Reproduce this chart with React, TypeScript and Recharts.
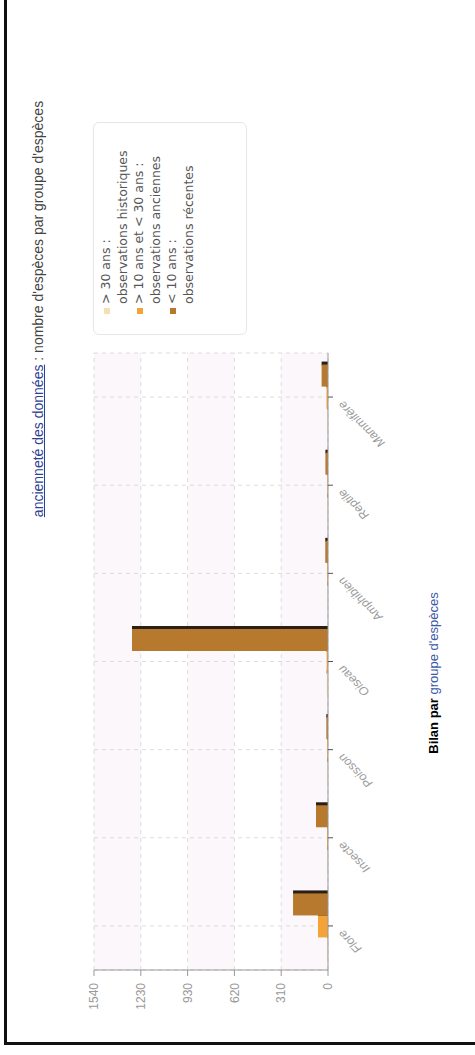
import React from 'react';
import { BarChart, Bar, XAxis, YAxis, CartesianGrid, Legend } from 'recharts';

const categories = ['Flore', 'Insecte', 'Poisson', 'Oiseau', 'Amphibien', 'Reptile', 'Mammifère'];
const historiques = [6, 5, 4, 8, 3, 3, 4];
const anciennes = [66, 6, 5, 9, 5, 4, 10];
const recentes = [230, 79, 11, 1290, 18, 17, 42];
const valueTicks = [0, 308, 616, 924, 1232, 1540];
const valueTickLabels = ['0', '310', '620', '930', '1230', '1540'];
const seriesKeys = ['historiques', 'anciennes', 'recentes'];
const seriesLabels = ['> 30 ans :', '> 10 ans et < 30 ans :', '< 10 ans :'];
const seriesSubLabels = ['observations historiques', 'observations anciennes', 'observations récentes'];
const seriesColors = ['#f6dfb4', '#f3a338', '#b7792d'];

const data = categories.map((name, i) => ({
  name,
  historiques: historiques[i],
  anciennes: anciennes[i],
  recentes: recentes[i],
}));

const TICK_FONT = '"Liberation Sans Narrow", "Liberation Sans", Arial, sans-serif';

const ShadowBar = (props: any) => {
  const { x, y, width, height, fill } = props;
  if (!height || height <= 0) return null;
  return (
    <g>
      <rect x={x + width - 1} y={y} width={4} height={height} fill="#2a2016" />
      <rect x={x} y={y} width={width} height={height} fill={fill} />
    </g>
  );
};

const CatTick = (props: any) => {
  const { x, y, payload } = props;
  const ax = x - 3;
  const ay = y + 8;
  return (
    <text
      x={ax}
      y={ay}
      transform={`rotate(-45, ${ax}, ${ay})`}
      textAnchor="end"
      fill="#9a9a9a"
      fontSize={12}
      fontStyle="italic"
      fontFamily='"Liberation Sans", Arial, sans-serif'
    >
      {payload.value}
    </text>
  );
};

const LegendBox = (props: any) => {
  const payload = props.payload || [];
  return (
    <div
      style={{
        width: 207,
        height: 148,
        border: '1px solid #e6e6e6',
        borderRadius: 6,
        background: '#fff',
        boxSizing: 'content-box',
        padding: '4px 2px 0 2px',
        fontFamily: '"DejaVu Sans", sans-serif',
        fontSize: 12.5,
        color: '#555',
      }}
    >
      {payload.map((p: any, i: number) => (
        <div key={i} style={{ position: 'relative', paddingLeft: 28, height: 33, lineHeight: '16.5px' }}>
          <span
            style={{
              position: 'absolute',
              left: 18,
              top: 6,
              width: 6,
              height: 6,
              background: seriesColors[i],
            }}
          />
          <div>{seriesLabels[i]}</div>
          <div>{seriesSubLabels[i]}</div>
        </div>
      ))}
    </div>
  );
};

export default function App() {
  return (
    <div
      style={{
        position: 'fixed',
        left: 0,
        top: 0,
        width: 475,
        height: 1055,
        overflow: 'hidden',
        background: '#fff',
      }}
    >
      <div
        style={{
          position: 'absolute',
          left: 0,
          top: 0,
          width: 1055,
          height: 475,
          transformOrigin: '0 0',
          transform: 'translate(0px, 1055px) rotate(-90deg)',
          background: '#fff',
        }}
      >
        <div
          style={{
            position: 'absolute',
            left: 10,
            top: 4,
            width: 1200,
            height: 600,
            border: '3px solid #111',
          }}
        />
        <div
          style={{
            position: 'absolute',
            left: 0,
            top: 30,
            width: 1492,
            textAlign: 'center',
            fontFamily: '"Liberation Sans", Arial, sans-serif',
            fontSize: 14,
            lineHeight: '16px',
            color: '#444',
            whiteSpace: 'nowrap',
          }}
        >
          <span style={{ color: '#2f3f93', textDecoration: 'underline' }}>ancienneté des données</span>
          <span> : nombre d'espèces par groupe d'espèces</span>
        </div>
        <div style={{ position: 'absolute', left: 0, top: 0 }}>
          <BarChart
            width={1055}
            height={475}
            data={data}
            margin={{ top: 94, right: 353, bottom: 117, left: 0 }}
            barCategoryGap="12%"
            barGap={0}
          >
            <CartesianGrid
              stroke="#dcdcdc"
              strokeDasharray="4 4"
              horizontalFill={['#fbf7fa', '#ffffff']}
              fillOpacity={1}
            />
            <XAxis
              dataKey="name"
              height={30}
              interval={0}
              tickSize={5}
              tick={<CatTick />}
              axisLine={{ stroke: '#999' }}
              tickLine={{ stroke: '#555' }}
            />
            <YAxis
              width={85}
              domain={[0, 1540]}
              ticks={valueTicks}
              tickFormatter={(v: number) => valueTickLabels[valueTicks.indexOf(v)] ?? String(v)}
              tickSize={6}
              tickMargin={7}
              axisLine={{ stroke: '#999' }}
              tickLine={{ stroke: '#999' }}
              tick={{ fill: '#999', fontSize: 12, fontFamily: TICK_FONT }}
              allowDataOverflow
            />
            <Legend
              layout="horizontal"
              verticalAlign="middle"
              align="center"
              content={<LegendBox />}
              wrapperStyle={{ left: 720, top: 93, width: 213, height: 154 }}
            />
            {seriesKeys.map((k, i) => (
              <Bar
                key={k}
                dataKey={k}
                name={seriesLabels[i]}
                fill={seriesColors[i]}
                shape={<ShadowBar />}
                isAnimationActive={false}
              />
            ))}
          </BarChart>
        </div>
        <div
          style={{
            position: 'absolute',
            left: 0,
            top: 426,
            width: 764,
            textAlign: 'center',
            fontFamily: '"Liberation Sans", Arial, sans-serif',
            fontSize: 13,
            lineHeight: '15px',
            whiteSpace: 'nowrap',
          }}
        >
          <span style={{ fontWeight: 'bold', color: '#000' }}>Bilan par </span>
          <span style={{ color: '#3b57a8' }}>groupe d'espèces</span>
        </div>
      </div>
    </div>
  );
}
